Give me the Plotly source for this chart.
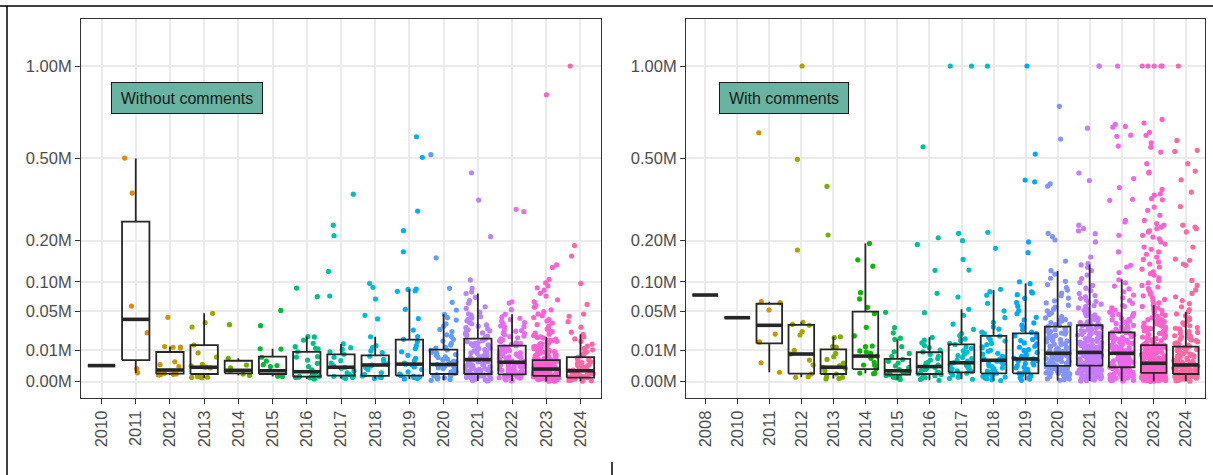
import math
import plotly.graph_objects as go

# ---------------- data (values in thousands) ----------------
wo_years = [2010, 2011, 2012, 2013, 2014, 2015, 2016, 2017, 2018, 2019, 2020, 2021, 2022, 2023, 2024]
wc_years = [2008, 2010, 2011, 2012, 2013, 2014, 2015, 2016, 2017, 2018, 2019, 2020, 2021, 2022, 2023, 2024]

wo_colors = ["#F8766D", "#E58700", "#C99800", "#A3A500", "#6BB100", "#00BA38", "#00BF7D", "#00C0AF",
             "#00BCD8", "#00B0F6", "#619CFF", "#B983FF", "#E76BF3", "#FD61D1", "#FF67A4"]
wc_colors = ["#F8766D", "#E68613", "#CD9600", "#ABA300", "#7CAE00", "#0CB702", "#00BE67", "#00C19A",
             "#00BFC4", "#00B8E7", "#00A9FF", "#8494FF", "#C77CFF", "#ED68ED", "#FF61CC", "#FF68A1"]

# box statistics (thousands)
wo_q1 = [2.6, 4.7, 0.64, 0.6, 0.7, 0.6, 0.25, 0.36, 0.33, 0.36, 0.6, 0.6, 0.55, 0.33, 0.16]
wo_med = [2.6, 39, 1.37, 2.1, 1.3, 1.2, 1.0, 2.1, 2.8, 3.1, 3.0, 4.9, 3.8, 1.6, 1.2]
wo_q3 = [2.6, 257, 8.85, 13.5, 4.4, 6.3, 8.9, 7.5, 7.0, 17.7, 10.3, 18.6, 13.0, 4.7, 6.1]
wo_lo = [2.6, 0.8, 0.45, 0.15, 0.4, 0.28, 0.08, 0.1, 0.1, 0.08, 0.02, 0.004, 0.004, 0.001, 0.003]
wo_hi = [2.6, 500, 12.4, 47, 5.5, 10.9, 20.4, 14.3, 20.3, 86.2, 45.6, 78, 45.6, 20.3, 22.5]

wc_q1 = [75.4, 41.1, 14.8, 0.64, 0.6, 1.6, 0.5, 0.6, 0.89, 0.7, 0.7, 2.5, 2.6, 2.1, 0.8, 0.6]
wc_med = [75.4, 41.1, 31.9, 7.7, 2.1, 6.6, 1.2, 2.3, 3.6, 4.6, 5.2, 8.1, 8.6, 8.1, 3.4, 2.8]
wc_q3 = [75.4, 41.1, 61, 32.3, 10.5, 49.2, 5.2, 8.7, 14, 21, 23.5, 30.4, 32, 24.4, 13.5, 12.3]
wc_lo = [75.4, 41.1, 0.9, 0.2, 0.1, 0.7, 0.05, 0.02, 0.06, 0.01, 0.02, 0.015, 0.003, 0.004, 0.001, 0.003]
wc_hi = [75.4, 41.1, 64.2, 35.4, 20.3, 192, 18, 19.8, 52.6, 84.4, 97, 123, 138, 105, 59, 49]

# individual points, "Without comments"
wo_2010 = [2.6]
wo_2011 = [502, 357, 57.5, 24.1, 1.7, 0.8]
wo_2012 = [41.6, 12.4, 12.1, 11.9, 11.4, 4.0, 2.9, 2.3, 0.8, 0.7, 0.6, 0.55, 0.5, 0.45]
wo_2013 = [47, 35, 30, 13.5, 8.4, 6.1, 3.0, 2.5, 2.2, 2.15, 1.9, 0.2, 0.18, 0.15, 0.22, 0.25]
wo_2014 = [32.6, 5.5, 2.8, 1.9, 1.1, 0.6, 0.4]
wo_2015 = [51, 31.5, 10.9, 10.7, 6.0, 4.3, 2.9, 2.6, 2.3, 0.4, 0.35, 0.3, 0.28]
wo_2016 = [88, 72.5, 20.4, 20.1, 17.4, 14.8, 12.3, 11.2, 10.9, 9.0, 6.3, 6.1, 4.7, 3.4, 2.3, 1.4, 0.7, 0.65,
           0.3, 0.28, 0.25, 0.2, 0.18, 0.15, 0.1, 0.08]
wo_2017 = [353, 246, 214, 122, 73.7, 14.3, 11.6, 10.5, 9.0, 7.5, 6.0, 4.5, 3.5, 2.5, 2.1, 1.8, 1.2, 0.8,
           0.5, 0.35, 0.3, 0.2, 0.18, 0.1]
wo_2018 = [97, 89.4, 68.6, 44.2, 39.5, 20.3, 13, 11.6, 9.5, 8.5, 6.5, 5.0, 4.0, 3.2, 2.8, 2.5, 2.0, 1.5,
           0.8, 0.5, 0.33, 0.22, 0.18, 0.1]
wo_2019 = [602, 505, 292, 229, 169.5, 86.2, 85.5, 83, 82, 52.6, 40, 26.8, 20.4, 18, 16, 13, 11, 9, 7, 5.5,
           4.5, 3.5, 3.1, 2.8, 2.2, 1.5, 1.0, 0.6, 0.4, 0.3, 0.22, 0.18, 0.1, 0.08]
wo_2020 = [517, 154, 87.5, 63.2, 51.6, 45.6, 41.2, 38.1, 33.6, 30.9, 27.4, 25.3, 22.1, 20.6, 18.1, 16.6,
           14.7, 13.5, 12.0, 11.4, 10.1, 9.8, 8.7, 8.3, 7.4, 7.0, 6.2, 5.9, 5.1, 4.9, 4.2, 3.95, 3.4, 3.1,
           2.95, 2.7, 2.45, 2.3, 1.95, 1.75, 1.45, 1.32, 1.08, 0.97, 0.78, 0.68, 0.52, 0.47, 0.34, 0.29,
           0.19, 0.15, 0.08, 0.05, 0.02]
wo_2021 = [438, 331, 211, 104, 87.5, 81, 78, 71.5, 66, 61.8, 56.4, 53.9, 48.7, 46.3, 42.5, 40.6, 37.2,
           35.4, 32.3, 30.9, 28.2, 27.1, 24.8, 23.9, 21.7, 20.9, 19.1, 18.3, 16.9, 16.2, 14.8, 14.3, 12.9,
           12.5, 11.3, 10.9, 9.8, 9.5, 8.4, 8.1, 7.2, 6.95, 6.2, 5.95, 5.3, 5.1, 4.6, 4.45, 3.9, 3.75, 3.3,
           3.15, 2.8, 2.65, 2.3, 2.2, 1.9, 1.82, 1.55, 1.46, 1.22, 1.15, 0.96, 0.9, 0.74, 0.68, 0.58, 0.52,
           0.45, 0.4, 0.33, 0.29, 0.23, 0.2, 0.15, 0.12, 0.09, 0.06, 0.04, 0.025, 0.012, 0.005,
           44.5, 38.9, 33.6, 29.3, 25.9, 22.8, 19.8, 17.5, 15.4, 13.6, 11.9, 10.3, 8.9, 7.7, 6.6, 5.6,
           4.75, 4.0, 3.35, 2.75, 2.25, 1.75, 1.35, 1.0, 0.7, 0.48, 0.3, 0.17]
wo_2022 = [298, 290, 64, 62, 52, 45.6, 42.3, 38.6, 36.9, 33.7, 31.2, 29.8, 27.1, 25.6, 23.2, 22.1, 20.3,
           19.4, 17.6, 16.8, 15.2, 14.6, 13.3, 12.8, 11.6, 11.1, 10.1, 9.7, 8.8, 8.4, 7.6, 7.2, 6.5, 6.2,
           5.6, 5.35, 4.8, 4.6, 4.1, 3.9, 3.5, 3.3, 2.95, 2.8, 2.5, 2.35, 2.05, 1.95, 1.7, 1.6, 1.38, 1.3,
           1.1, 1.03, 0.86, 0.8, 0.66, 0.61, 0.5, 0.46, 0.37, 0.33, 0.26, 0.22, 0.16, 0.13, 0.09, 0.06,
           0.035, 0.018, 0.006,
           40.4, 35.1, 30.4, 26.3, 23.9, 20.9, 18.5, 16.2, 14.0, 12.2, 10.6, 9.2, 8.0, 6.9, 5.9, 5.0,
           4.25, 3.6, 3.0, 2.5, 2.05, 1.65, 1.25, 0.94, 0.69, 0.48, 0.3, 0.16]
wo_2023 = [826, 137, 131, 105, 98.3, 92, 88.6, 84.1, 78.3, 73.5, 67.2, 63.8, 58.4, 55.7, 51.9, 49.2, 46.1,
           43.7, 41.3, 38.8, 36.9, 34.6, 32.8, 31.1, 29.3, 27.9, 26.2, 25.1, 23.6, 22.7, 21.2, 20.3, 19.1,
           18.2, 17.3, 16.4, 15.6, 14.8, 14.1, 13.3, 12.6, 12.1, 11.4, 10.9, 10.2, 9.8, 9.1, 8.7, 8.2, 7.9,
           7.3, 7.05, 6.6, 6.3, 5.9, 5.65, 5.3, 5.05, 4.75, 4.55, 4.25, 4.1, 3.85, 3.7, 3.45, 3.35, 3.1, 3.0,
           2.8, 2.7, 2.52, 2.43, 2.27, 2.18, 2.02, 1.96, 1.82, 1.76, 1.63, 1.58, 1.46, 1.41, 1.3, 1.25, 1.15,
           1.11, 1.02, 0.98, 0.9, 0.86, 0.79, 0.75, 0.69, 0.66, 0.6, 0.57, 0.52, 0.49, 0.44, 0.42, 0.37,
           0.35, 0.31, 0.29, 0.25, 0.23, 0.2, 0.18, 0.15, 0.135, 0.11, 0.095, 0.075, 0.062, 0.045, 0.036,
           0.024, 0.017, 0.009, 0.005, 0.002,
           19.6, 16.9, 14.5, 12.4, 10.6, 9.4, 8.4, 7.6, 6.85, 6.1, 5.45, 4.9, 4.4, 3.95, 3.55, 3.2, 2.9,
           2.62, 2.35, 2.1, 1.88, 1.68, 1.5, 1.33, 1.18, 1.04, 0.91, 0.79, 0.68, 0.58, 0.49, 0.41, 0.34,
           0.27, 0.21, 0.16, 0.12, 0.085, 0.055, 0.03, 0.014, 0.004]
wo_2024 = [1000, 186, 158.5, 97, 60, 46, 43, 36.2, 29.8, 24.6, 22.5, 20.2, 18.4, 16.3, 14.1, 12.7, 11.1,
           10.2, 8.9, 8.2, 7.2, 6.7, 5.9, 5.5, 4.85, 4.45, 3.95, 3.7, 3.2, 2.95, 2.6, 2.42, 2.12, 1.93, 1.7,
           1.55, 1.36, 1.24, 1.08, 0.98, 0.85, 0.76, 0.66, 0.59, 0.5, 0.44, 0.37, 0.32, 0.26, 0.22, 0.17,
           0.14, 0.105, 0.08, 0.06, 0.042, 0.028, 0.016, 0.008, 0.003]

# individual points, "With comments"
wc_2008 = [75.4]
wc_2010 = [41.1]
wc_2011 = [622, 64.2, 62.6, 51.6, 22.8, 15.9, 3.6, 0.9]
wc_2012 = [1000, 496, 174, 35.4, 33, 31.9, 25.1, 21.9, 9.9, 7.7, 4.7, 2.8, 0.6, 0.25, 0.2]
wc_2013 = [383, 216, 20.3, 19.6, 12.3, 12.0, 8.0, 6.3, 5.0, 3.5, 2.5, 2.1, 1.8, 1.2, 0.6, 0.3, 0.2, 0.1, 0.08]
wc_2014 = [192, 149, 134, 79.5, 68.7, 55.5, 46.5, 29.7, 21, 12.8, 12.3, 9.5, 9.0, 8.0, 6.6, 5.5, 3.8, 2.8,
           2.7, 1.6, 0.75, 0.7, 0.65]
wc_2015 = [48.3, 29.3, 24, 19, 18, 12.3, 9.0, 8.0, 6.3, 5.0, 4.2, 3.5, 2.5, 2.0, 1.5, 1.2, 1.0, 0.8, 0.6,
           0.5, 0.4, 0.3, 0.2, 0.15, 0.1, 0.05]
wc_2016 = [554, 208, 189, 124.5, 78.4, 47.8, 19.8, 17.3, 15.2, 13.1, 11.7, 10.1, 8.9, 7.5, 6.5, 5.4, 4.7,
           3.8, 3.35, 2.75, 2.45, 2.05, 1.85, 1.45, 1.25, 0.95, 0.82, 0.62, 0.52, 0.37, 0.28, 0.17, 0.11,
           0.05, 0.02]
wc_2017 = [1000, 1000, 221, 199.5, 150, 125, 72, 52.6, 44.3, 33.2, 27.4, 23.2, 21.3, 18.4, 17.1, 14.8,
           13.9, 12.1, 11.2, 9.6, 8.8, 7.6, 6.9, 5.9, 5.4, 4.6, 4.25, 3.7, 3.45, 2.9, 2.65, 2.2, 2.05, 1.68,
           1.5, 1.18, 1.04, 0.84, 0.72, 0.53, 0.44, 0.29, 0.21, 0.11, 0.06]
wc_2018 = [1000, 224, 178.5, 85.7, 81.3, 75.2, 61.8, 50.4, 41.2, 35.3, 30.1, 27.7, 24.6, 23.3, 20.9, 19.7,
           17.8, 16.6, 14.7, 13.8, 12.2, 11.5, 9.9, 9.3, 8.1, 7.6, 6.5, 6.1, 5.2, 4.9, 4.2, 3.9, 3.3, 3.05,
           2.55, 2.3, 1.88, 1.7, 1.32, 1.15, 0.86, 0.72, 0.51, 0.43, 0.3, 0.22, 0.14, 0.09, 0.04, 0.015]
wc_2019 = [1000, 520, 408, 401, 196, 167, 100.3, 96.5, 81.2, 79.1, 76, 69.8, 62.7, 57.3, 50.8, 46.4, 41.6,
           38.3, 34.7, 32.1, 29.2, 27.3, 24.6, 23.2, 21.1, 19.9, 17.9, 16.9, 15.1, 14.3, 12.6, 11.9, 10.4,
           9.8, 8.5, 8.0, 6.9, 6.5, 5.6, 5.2, 4.5, 4.2, 3.6, 3.35, 2.8, 2.6, 2.1, 1.95, 1.55, 1.43, 1.08,
           0.98, 0.72, 0.62, 0.43, 0.35, 0.22, 0.15, 0.07, 0.02]
wc_2020 = [761, 591, 393, 384, 221, 211, 201.5, 146, 123.6, 116.2, 107.4, 101.1, 94.6, 88.9, 84.3, 78.8,
           74.1, 70.2, 65.7, 62.3, 58.8, 55.9, 52.7, 50.3, 47.3, 45.2, 42.6, 40.8, 38.7, 36.9, 35.1, 33.4,
           31.9, 30.6, 29.4, 28.1, 27.1, 25.8, 24.9, 23.7, 22.8, 21.6, 20.9, 19.7, 18.9, 17.8, 17.1, 16.0,
           15.4, 14.4, 13.8, 12.8, 12.3, 11.4, 10.9, 10.0, 9.6, 8.8, 8.4, 8.1, 7.7, 7.35, 7.0, 6.6, 6.3,
           5.95, 5.7, 5.35, 5.1, 4.8, 4.55, 4.3, 4.05, 3.85, 3.6, 3.45, 3.2, 3.05, 2.85, 2.7, 2.5, 2.36,
           2.18, 2.02, 1.88, 1.72, 1.6, 1.44, 1.32, 1.18, 1.06, 0.93, 0.83, 0.7, 0.61, 0.5, 0.42, 0.33,
           0.26, 0.18, 0.13, 0.08, 0.045, 0.02,
           37.8, 32.7, 28.7, 25.3, 22.3, 19.3, 16.6, 14.1, 11.9, 10.4, 9.1, 7.9, 6.85, 5.85, 4.95, 4.15,
           3.5, 2.95, 2.42, 1.97, 1.52, 1.12, 0.77, 0.47, 0.23, 0.07]
wc_2021 = [1000, 1000, 645, 437, 406, 246, 235, 228, 220, 196, 156, 140, 136.8, 131.5, 123.7, 114.2, 106.9,
           98.6, 93.1, 87.7, 83.2, 78.1, 74.6, 69.8, 66.9, 62.7, 60.3, 56.5, 54.6, 51.2, 49.4, 46.6, 44.9,
           42.4, 40.9, 38.7, 37.4, 35.3, 34.3, 32.6, 31.5, 30.4, 29.2, 28.3, 27.1, 26.2, 25.1, 24.3, 23.2,
           22.5, 21.4, 20.8, 19.7, 19.2, 18.2, 17.6, 16.7, 16.2, 15.3, 14.9, 14.0, 13.6, 12.8, 12.4, 11.6,
           11.3, 10.6, 10.2, 9.6, 9.2, 8.8, 8.5, 8.1, 7.8, 7.4, 7.1, 6.8, 6.5, 6.2, 5.95, 5.65, 5.4, 5.15,
           4.95, 4.7, 4.5, 4.3, 4.1, 3.9, 3.72, 3.55, 3.38, 3.2, 3.06, 2.9, 2.76, 2.62, 2.5, 2.36, 2.24,
           2.1, 1.98, 1.86, 1.75, 1.63, 1.52, 1.42, 1.31, 1.22, 1.12, 1.03, 0.94, 0.86, 0.77, 0.7, 0.62,
           0.55, 0.48, 0.42, 0.36, 0.3, 0.25, 0.2, 0.16, 0.12, 0.085, 0.055, 0.03, 0.014, 0.004,
           72.1, 64.5, 58.2, 52.8, 47.7, 43.5, 39.7, 36.1, 33.1, 30.0, 27.6, 25.4, 23.6, 21.9, 20.3, 18.7,
           17.2, 15.8, 14.5, 13.2, 12.0, 10.9, 9.9, 9.0, 8.3, 7.6, 6.95, 6.35, 5.8, 5.25, 4.8, 4.4, 4.0,
           3.63, 3.3, 2.98, 2.68, 2.4, 2.14, 1.9, 1.68, 1.47, 1.27, 1.08, 0.9, 0.74, 0.59, 0.45, 0.33,
           0.22, 0.13, 0.06, 0.02]
wc_2022 = [1000, 664, 654, 650, 610, 604, 557, 414, 378, 334, 330, 261, 256, 215, 169, 136, 132, 119.6,
           104.3, 98.2, 91.7, 86.4, 80.8, 75.3, 70.6, 65.9, 61.8, 58.1, 54.7, 51.4, 48.6, 45.5, 43.1, 40.2,
           38.3, 35.9, 34.1, 31.8, 30.3, 28.5, 27.1, 25.4, 24.2, 22.8, 21.6, 20.3, 19.2, 18.1, 17.1, 16.1,
           15.2, 14.3, 13.5, 12.6, 11.9, 11.2, 10.5, 9.9, 9.3, 8.7, 8.2, 7.7, 7.25, 6.8, 6.35, 5.95, 5.6,
           5.2, 4.9, 4.55, 4.25, 3.95, 3.7, 3.45, 3.2, 2.95, 2.75, 2.55, 2.35, 2.15, 1.98, 1.8, 1.65, 1.5,
           1.35, 1.22, 1.1, 0.97, 0.86, 0.76, 0.66, 0.57, 0.48, 0.4, 0.33, 0.27, 0.21, 0.16, 0.12, 0.08,
           0.05, 0.028, 0.012, 0.004,
           57, 49.8, 44.2, 39.1, 34.9, 31.1, 27.8, 24.8, 22.2, 19.8, 17.6, 15.6, 13.9, 12.3, 10.9, 9.6,
           8.45, 7.45, 6.55, 5.75, 5.05, 4.4, 3.82, 3.3, 2.85, 2.45, 2.07, 1.72, 1.42, 1.16, 0.92, 0.71,
           0.53, 0.37, 0.24, 0.14, 0.065, 0.02, 46.9, 36.8, 29.3, 23.4, 18.6, 14.8, 11.6, 9.0, 6.95, 5.35,
           4.05, 3.05, 2.25, 1.6, 1.05, 0.62, 0.3, 0.1]
wc_2023 = [1000, 1000, 1000, 1000, 1000, 690, 671, 624, 609, 573, 552, 529, 477, 441, 437, 371, 354, 349,
           336, 332, 306, 295, 278, 261, 251, 246, 240, 235, 228, 225, 215, 210, 205, 196, 190, 182, 176,
           169, 163, 156, 150, 144, 139, 132, 127, 121, 117, 114, 108, 103, 98, 93, 90, 87, 84, 80, 77, 74,
           71.5, 68, 65.5, 62.5, 60.2, 58.7, 56.8, 54.6, 53.1, 51.0, 49.6, 47.5, 46.2, 44.1, 42.9, 41.0,
           39.9, 38.0, 37.1, 35.4, 34.4, 32.8, 31.9, 30.4, 29.6, 28.2, 27.4, 26.1, 25.4, 24.1, 23.5, 22.3,
           21.7, 20.6, 20.0, 19.0, 18.5, 17.5, 17.0, 16.1, 15.7, 14.8, 14.4, 13.7, 13.3, 12.8, 12.5, 12.0,
           11.7, 11.2, 10.9, 10.5, 10.2, 9.8, 9.5, 9.1, 8.85, 8.5, 8.2, 7.9, 7.65, 7.35, 7.1, 6.8, 6.6, 6.3,
           6.1, 5.85, 5.65, 5.4, 5.2, 5.0, 4.8, 4.6, 4.45, 4.25, 4.1, 3.9, 3.75, 3.6, 3.45, 3.33, 3.2, 3.1,
           2.98, 2.88, 2.76, 2.67, 2.56, 2.47, 2.37, 2.28, 2.19, 2.1, 2.01, 1.93, 1.85, 1.77, 1.69, 1.62,
           1.54, 1.47, 1.4, 1.33, 1.27, 1.2, 1.14, 1.08, 1.02, 0.97, 0.91, 0.86, 0.81, 0.77, 0.72, 0.68,
           0.64, 0.6, 0.56, 0.52, 0.49, 0.45, 0.42, 0.39, 0.36, 0.33, 0.3, 0.27, 0.25, 0.22, 0.2, 0.18,
           0.16, 0.14, 0.12, 0.1, 0.085, 0.07, 0.056, 0.044, 0.033, 0.024, 0.016, 0.009, 0.004, 0.001,
           38.6, 33.5, 29.1, 25.8, 22.9, 19.6, 17.8, 15.3, 13.9, 12.2, 11.0, 9.7, 8.7, 7.8, 7.0, 6.45, 5.75,
           5.1, 4.7, 4.15, 3.8, 3.4, 3.05, 2.72, 2.43, 2.16, 1.89, 1.66, 1.44, 1.24, 1.06, 0.89, 0.74,
           0.61, 0.5, 0.4, 0.31, 0.23, 0.17, 0.11, 0.065, 0.03, 0.012, 36.2, 31.1, 27.0, 24.0, 21.0, 18.8,
           16.6, 14.6, 13.0, 11.5, 10.3, 9.2, 8.3, 7.45, 6.7, 6.0, 5.35, 4.9, 4.35, 3.95, 3.5, 3.25, 2.9,
           2.6, 2.3, 2.05, 1.8, 1.58, 1.36, 1.17, 0.99, 0.83, 0.69, 0.56, 0.45, 0.35, 0.27, 0.2, 0.13,
           0.08, 0.04]
wc_2024 = [1000, 584, 537, 532, 477, 445, 409, 361, 308, 246, 240, 235, 225, 182, 151, 148, 139, 136, 103,
           93, 84.5, 78.2, 72.3, 66.1, 61.4, 56.3, 52.2, 49.0, 46.1, 43.6, 40.9, 38.8, 36.6, 34.9, 32.8,
           31.3, 29.5, 28.1, 26.4, 25.2, 23.7, 22.6, 21.2, 20.2, 19.0, 18.0, 16.9, 16.0, 15.1, 14.2, 13.4,
           12.6, 12.0, 11.5, 10.9, 10.4, 9.8, 9.4, 8.8, 8.4, 7.9, 7.5, 7.0, 6.7, 6.2, 5.9, 5.5, 5.2, 4.8,
           4.5, 4.2, 3.9, 3.6, 3.35, 3.1, 2.88, 2.74, 2.6, 2.47, 2.35, 2.22, 2.1, 1.99, 1.87, 1.76, 1.66,
           1.55, 1.45, 1.36, 1.26, 1.17, 1.08, 1.0, 0.92, 0.84, 0.77, 0.7, 0.63, 0.58, 0.53, 0.49, 0.45,
           0.4, 0.36, 0.33, 0.29, 0.26, 0.23, 0.2, 0.17, 0.145, 0.12, 0.1, 0.08, 0.062, 0.046, 0.032, 0.02,
           0.01, 0.003,
           28.7, 24.4, 20.7, 17.5, 14.7, 12.3, 10.6, 9.1, 7.7, 6.45, 5.35, 4.35, 3.75, 3.2, 2.68, 2.28,
           1.93, 1.6, 1.3, 1.04, 0.81, 0.6, 0.42, 0.27, 0.15, 0.06]

wo_points = [wo_2010, wo_2011, wo_2012, wo_2013, wo_2014, wo_2015, wo_2016, wo_2017, wo_2018, wo_2019,
             wo_2020, wo_2021, wo_2022, wo_2023, wo_2024]
wc_points = [wc_2008, wc_2010, wc_2011, wc_2012, wc_2013, wc_2014, wc_2015, wc_2016, wc_2017, wc_2018,
             wc_2019, wc_2020, wc_2021, wc_2022, wc_2023, wc_2024]

y_ticks_m = [0, 0.01, 0.05, 0.10, 0.20, 0.50, 1.00]
y_tick_labels = ["0.00M", "0.01M", "0.05M", "0.10M", "0.20M", "0.50M", "1.00M"]


# ---------------- helpers ----------------
def sq(v_thousands):
    return math.sqrt(max(v_thousands, 0) / 1000.0)


def spread(k, g):
    # deterministic horizontal scatter in [-0.5, 0.5) (layout only, not data)
    h = math.sin((k + 1) * 12.9898 + (g + 1) * 78.233) * 43758.5453
    return (h - math.floor(h)) - 0.5


JIT = 0.38
HALF = 0.4
FONT = "Liberation Sans, Arial, sans-serif"
BOXCOL = "#262626"

fig = go.Figure()


def add_panel(points, colors, q1, med, q3, lo, hi, xa, ya, gshift):
    for g, vals in enumerate(points):
        if len(vals) < 2:
            continue
        pos = g + 1
        xs = [pos + spread(k, g + gshift) * 2 * JIT for k in range(len(vals))]
        ys = [sq(v) for v in vals]
        fig.add_trace(go.Scatter(x=xs, y=ys, mode="markers", xaxis=xa, yaxis=ya,
                                 marker=dict(size=5.2, color=colors[g], line=dict(width=0)),
                                 hoverinfo="skip", showlegend=False))
    bx, by = [], []
    mx, my = [], []
    for g in range(len(q1)):
        p = g + 1
        a, m, b, l, h = sq(q1[g]), sq(med[g]), sq(q3[g]), sq(lo[g]), sq(hi[g])
        bx += [p - HALF, p + HALF, p + HALF, p - HALF, p - HALF, None]
        by += [a, a, b, b, a, None]
        bx += [p, p, None, p, p, None]
        by += [b, h, None, l, a, None]
        mx += [p - HALF, p + HALF, None]
        my += [m, m, None]
    fig.add_trace(go.Scatter(x=bx, y=by, mode="lines", xaxis=xa, yaxis=ya,
                             line=dict(color=BOXCOL, width=1.8), hoverinfo="skip", showlegend=False))
    fig.add_trace(go.Scatter(x=mx, y=my, mode="lines", xaxis=xa, yaxis=ya,
                             line=dict(color=BOXCOL, width=3.6), hoverinfo="skip", showlegend=False))


add_panel(wo_points, wo_colors, wo_q1, wo_med, wo_q3, wo_lo, wo_hi, "x", "y", 0)
add_panel(wc_points, wc_colors, wc_q1, wc_med, wc_q3, wc_lo, wc_hi, "x2", "y2", 40)

W, H = 1213, 475
y_dom = [1 - 398 / H, 1 - 19 / H]
y_rng = [-0.0516, 1.1489]

common_x = dict(tickangle=-90, ticks="outside", ticklen=5, tickwidth=1.1, tickcolor="#333333",
                showgrid=True, gridcolor="#EBEBEB", gridwidth=1.6, zeroline=False,
                showline=True, mirror=True, linecolor="#333333", linewidth=1,
                tickfont=dict(family=FONT, size=16.5, color="#4D4D4D"), automargin=False)
common_y = dict(range=y_rng, domain=y_dom, tickvals=[math.sqrt(t) for t in y_ticks_m],
                ticktext=y_tick_labels, ticks="outside", ticklen=5, tickwidth=1.1, tickcolor="#333333",
                showgrid=True, gridcolor="#EBEBEB", gridwidth=1.6, zeroline=False,
                showline=True, mirror=True, linecolor="#333333", linewidth=1,
                tickfont=dict(family=FONT, size=16.5, color="#4D4D4D"), automargin=False)

fig.update_layout(
    width=W, height=H, margin=dict(l=0, r=0, t=0, b=0),
    paper_bgcolor="white", plot_bgcolor="white", showlegend=False,
    xaxis=dict(domain=[81 / W, 601 / W], range=[0.4, len(wo_years) + 0.6], anchor="y",
               tickvals=list(range(1, len(wo_years) + 1)), ticktext=[str(y) for y in wo_years], **common_x),
    yaxis=dict(anchor="x", **common_y),
    xaxis2=dict(domain=[686 / W, 1205 / W], range=[0.4, len(wc_years) + 0.6], anchor="y2",
                tickvals=list(range(1, len(wc_years) + 1)), ticktext=[str(y) for y in wc_years], **common_x),
    yaxis2=dict(anchor="x2", **common_y),
    annotations=[
        dict(text="Without comments", xref="paper", yref="paper", x=187 / W, y=1 - 98 / H,
             xanchor="center", yanchor="middle", showarrow=False, bgcolor="#69b3a2",
             bordercolor="#1a1a1a", borderwidth=1, borderpad=4, width=142, height=22,
             font=dict(family=FONT, size=16, color="#1a1a1a")),
        dict(text="With comments", xref="paper", yref="paper", x=784 / W, y=1 - 98 / H,
             xanchor="center", yanchor="middle", showarrow=False, bgcolor="#69b3a2",
             bordercolor="#1a1a1a", borderwidth=1, borderpad=4, width=120, height=22,
             font=dict(family=FONT, size=16, color="#1a1a1a")),
    ],
    shapes=[
        dict(type="line", xref="paper", yref="paper", x0=0, x1=1, y0=1 - 6 / H, y1=1 - 6 / H,
             line=dict(color="black", width=1.5)),
        dict(type="line", xref="paper", yref="paper", x0=7 / W, x1=7 / W, y0=1 - 6 / H, y1=0,
             line=dict(color="black", width=1.5)),
        dict(type="line", xref="paper", yref="paper", x0=612 / W, x1=612 / W, y0=1 - 462 / H, y1=0,
             line=dict(color="black", width=1.5)),
    ],
)

fig.write_html("out.html")
